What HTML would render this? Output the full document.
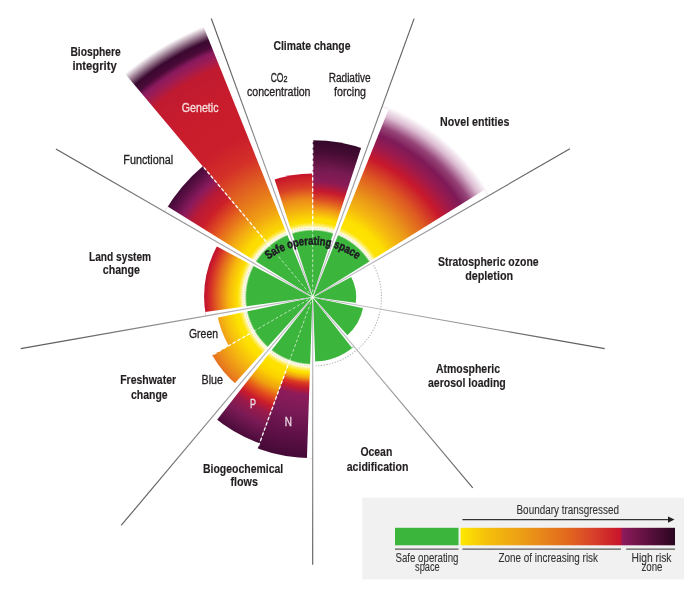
<!DOCTYPE html>
<html><head><meta charset="utf-8"><style>html,body{margin:0;padding:0;background:#fff;width:700px;height:589px;overflow:hidden}svg{display:block;will-change:transform}</style></head>
<body><svg width="700" height="589" viewBox="0 0 700 589"><defs><radialGradient id="g1" gradientUnits="userSpaceOnUse" cx="312.7" cy="297.2" r="300"><stop offset="0.2000" stop-color="#ffe700"/><stop offset="0.2533" stop-color="#fde000"/><stop offset="0.2933" stop-color="#f4b010"/><stop offset="0.3267" stop-color="#ec8a1a"/><stop offset="0.3667" stop-color="#d83e26"/><stop offset="0.4083" stop-color="#c8162c"/></radialGradient><radialGradient id="g2" gradientUnits="userSpaceOnUse" cx="312.7" cy="297.2" r="300"><stop offset="0.2000" stop-color="#ffe700"/><stop offset="0.2600" stop-color="#fddf00"/><stop offset="0.2933" stop-color="#f19a18"/><stop offset="0.3267" stop-color="#dc4b24"/><stop offset="0.3533" stop-color="#c6192e"/><stop offset="0.3867" stop-color="#8a1b56"/><stop offset="0.4267" stop-color="#761a52"/><stop offset="0.4800" stop-color="#4a0d35"/><stop offset="0.5233" stop-color="#33082a"/></radialGradient><radialGradient id="g3" gradientUnits="userSpaceOnUse" cx="312.7" cy="297.2" r="300"><stop offset="0.2000" stop-color="#ffe700"/><stop offset="0.2800" stop-color="#fde000"/><stop offset="0.3233" stop-color="#f5b810"/><stop offset="0.3667" stop-color="#eb9a18"/><stop offset="0.4400" stop-color="#de5a22"/><stop offset="0.5000" stop-color="#c8182c"/><stop offset="0.5467" stop-color="#9a1a4e"/><stop offset="0.5833" stop-color="#7e1a58"/><stop offset="0.6133" stop-color="#964478"/><stop offset="0.6500" stop-color="#dcbcd2"/><stop offset="0.6833" stop-color="#ffffff"/></radialGradient><radialGradient id="g4" gradientUnits="userSpaceOnUse" cx="312.7" cy="297.2" r="300"><stop offset="0.0000" stop-color="#3cb53c"/><stop offset="1.0000" stop-color="#3cb53c"/></radialGradient><radialGradient id="g5" gradientUnits="userSpaceOnUse" cx="312.7" cy="297.2" r="300"><stop offset="0.0000" stop-color="#3cb53c"/><stop offset="1.0000" stop-color="#3cb53c"/></radialGradient><radialGradient id="g6" gradientUnits="userSpaceOnUse" cx="312.7" cy="297.2" r="300"><stop offset="0.0000" stop-color="#3cb53c"/><stop offset="1.0000" stop-color="#3cb53c"/></radialGradient><radialGradient id="g7" gradientUnits="userSpaceOnUse" cx="312.7" cy="297.2" r="300"><stop offset="0.2000" stop-color="#ffe700"/><stop offset="0.2533" stop-color="#fde000"/><stop offset="0.2700" stop-color="#f0a010"/><stop offset="0.2867" stop-color="#dc3a22"/><stop offset="0.3033" stop-color="#c41a2e"/><stop offset="0.3267" stop-color="#8e1b5b"/><stop offset="0.3833" stop-color="#7a1a56"/><stop offset="0.4667" stop-color="#5e1046"/><stop offset="0.5367" stop-color="#440a36"/></radialGradient><radialGradient id="g8" gradientUnits="userSpaceOnUse" cx="312.7" cy="297.2" r="300"><stop offset="0.2000" stop-color="#ffe700"/><stop offset="0.2667" stop-color="#fde000"/><stop offset="0.2933" stop-color="#fcd000"/><stop offset="0.3267" stop-color="#f0a010"/><stop offset="0.3600" stop-color="#e24a1e"/><stop offset="0.3867" stop-color="#c81a2c"/><stop offset="0.4133" stop-color="#9a1a4a"/><stop offset="0.4533" stop-color="#7a1a56"/><stop offset="0.5183" stop-color="#4a0c3a"/></radialGradient><radialGradient id="g9" gradientUnits="userSpaceOnUse" cx="312.7" cy="297.2" r="300"><stop offset="0.2000" stop-color="#ffe700"/><stop offset="0.2667" stop-color="#fde000"/><stop offset="0.3167" stop-color="#f5b610"/><stop offset="0.3600" stop-color="#ec8c1a"/><stop offset="0.3867" stop-color="#e4701e"/></radialGradient><radialGradient id="g10" gradientUnits="userSpaceOnUse" cx="312.7" cy="297.2" r="300"><stop offset="0.2000" stop-color="#ffe700"/><stop offset="0.2600" stop-color="#fde300"/><stop offset="0.3000" stop-color="#f6bc10"/><stop offset="0.3283" stop-color="#ee9818"/></radialGradient><radialGradient id="g11" gradientUnits="userSpaceOnUse" cx="312.7" cy="297.2" r="300"><stop offset="0.2000" stop-color="#ffe700"/><stop offset="0.2500" stop-color="#fde000"/><stop offset="0.2800" stop-color="#f6b80e"/><stop offset="0.3167" stop-color="#e46a1e"/><stop offset="0.3367" stop-color="#d83a26"/><stop offset="0.3533" stop-color="#c81a2c"/><stop offset="0.3617" stop-color="#c0142c"/></radialGradient><radialGradient id="g12" gradientUnits="userSpaceOnUse" cx="312.7" cy="297.2" r="300"><stop offset="0.2000" stop-color="#ffe700"/><stop offset="0.2667" stop-color="#fddc00"/><stop offset="0.3167" stop-color="#f2a814"/><stop offset="0.3833" stop-color="#e2581f"/><stop offset="0.4333" stop-color="#cc1e2a"/><stop offset="0.4733" stop-color="#b81a36"/><stop offset="0.5100" stop-color="#8a1a5c"/><stop offset="0.5433" stop-color="#5e1046"/><stop offset="0.5700" stop-color="#420a36"/></radialGradient><radialGradient id="g13" gradientUnits="userSpaceOnUse" cx="312.7" cy="297.2" r="300"><stop offset="0.2000" stop-color="#ffe700"/><stop offset="0.2400" stop-color="#fde000"/><stop offset="0.2733" stop-color="#f8c80a"/><stop offset="0.3167" stop-color="#f0a014"/><stop offset="0.3667" stop-color="#e8801a"/><stop offset="0.4333" stop-color="#de5a22"/><stop offset="0.5000" stop-color="#d43028"/><stop offset="0.5833" stop-color="#ca1e2c"/><stop offset="0.7167" stop-color="#c81c2c"/><stop offset="0.8267" stop-color="#c01a30"/><stop offset="0.8567" stop-color="#a01c52"/><stop offset="0.8800" stop-color="#8a1a5e"/><stop offset="0.9000" stop-color="#4a0a38"/><stop offset="0.9233" stop-color="#3a0830"/><stop offset="0.9467" stop-color="#9a7a90"/><stop offset="0.9733" stop-color="#ffffff"/></radialGradient><radialGradient id="g14" gradientUnits="userSpaceOnUse" cx="312.7" cy="297.2" r="300"><stop offset="0.2200" stop-color="#ffffff" stop-opacity="0"/><stop offset="0.2267" stop-color="#ffffff" stop-opacity="0.95"/><stop offset="0.2317" stop-color="#ffffff" stop-opacity="0.9"/><stop offset="0.2383" stop-color="#ffffff" stop-opacity="0.5"/><stop offset="0.2500" stop-color="#ffffff" stop-opacity="0"/></radialGradient><linearGradient id="sl20" gradientUnits="userSpaceOnUse" x1="329.80" y1="250.22" x2="398.21" y2="62.28"><stop offset="0" stop-color="#c0bec4"/><stop offset="1" stop-color="#606060"/></linearGradient><linearGradient id="sl60" gradientUnits="userSpaceOnUse" x1="356.00" y1="272.20" x2="529.21" y2="172.20"><stop offset="0" stop-color="#c0bec4"/><stop offset="1" stop-color="#606060"/></linearGradient><linearGradient id="sl100" gradientUnits="userSpaceOnUse" x1="361.94" y1="305.88" x2="558.90" y2="340.61"><stop offset="0" stop-color="#c0bec4"/><stop offset="1" stop-color="#606060"/></linearGradient><linearGradient id="sl140" gradientUnits="userSpaceOnUse" x1="344.84" y1="335.50" x2="473.40" y2="488.71"><stop offset="0" stop-color="#c0bec4"/><stop offset="1" stop-color="#606060"/></linearGradient><linearGradient id="sl180" gradientUnits="userSpaceOnUse" x1="312.70" y1="347.20" x2="312.70" y2="547.20"><stop offset="0" stop-color="#c0bec4"/><stop offset="1" stop-color="#606060"/></linearGradient><linearGradient id="sl220" gradientUnits="userSpaceOnUse" x1="280.56" y1="335.50" x2="152.00" y2="488.71"><stop offset="0" stop-color="#c0bec4"/><stop offset="1" stop-color="#606060"/></linearGradient><linearGradient id="sl260" gradientUnits="userSpaceOnUse" x1="263.46" y1="305.88" x2="66.50" y2="340.61"><stop offset="0" stop-color="#c0bec4"/><stop offset="1" stop-color="#606060"/></linearGradient><linearGradient id="sl300" gradientUnits="userSpaceOnUse" x1="269.40" y1="272.20" x2="96.19" y2="172.20"><stop offset="0" stop-color="#c0bec4"/><stop offset="1" stop-color="#606060"/></linearGradient><linearGradient id="sl340" gradientUnits="userSpaceOnUse" x1="295.60" y1="250.22" x2="227.19" y2="62.28"><stop offset="0" stop-color="#c0bec4"/><stop offset="1" stop-color="#606060"/></linearGradient><path id="arc" d="M249.05,281.45 A73.5,73.5 0 0 1 376.35,281.45"/><linearGradient id="lg" x1="460.6" x2="675" y1="0" y2="0" gradientUnits="userSpaceOnUse"><stop offset="0" stop-color="#fde800"/><stop offset="0.12" stop-color="#f5c00a"/><stop offset="0.3" stop-color="#eb9a16"/><stop offset="0.5" stop-color="#e2681e"/><stop offset="0.62" stop-color="#d8402a"/><stop offset="0.747" stop-color="#c8142c"/><stop offset="0.753" stop-color="#8e1a5c"/><stop offset="1" stop-color="#2a0620"/></linearGradient></defs><rect width="700" height="589" fill="#fff"/><path d="M312.70,297.20 L270.36,180.87 A123.80,123.80 0 0 1 312.70,173.40 Z" fill="url(#g1)"/><path d="M312.70,297.20 L312.70,140.20 A157.00,157.00 0 0 1 366.40,149.67 Z" fill="url(#g2)"/><path d="M312.70,297.20 L383.50,102.68 A207.00,207.00 0 0 1 491.97,193.70 Z" fill="url(#g3)"/><path d="M312.70,297.20 L350.37,275.45 A43.50,43.50 0 0 1 355.54,304.75 Z" fill="url(#g4)"/><path d="M312.70,297.20 L363.42,306.14 A51.50,51.50 0 0 1 345.80,336.65 Z" fill="url(#g5)"/><path d="M312.70,297.20 L354.16,346.61 A64.50,64.50 0 0 1 312.70,361.70 Z" fill="url(#g6)"/><path d="M312.70,297.20 L312.70,458.20 A161.00,161.00 0 0 1 257.63,448.49 Z" fill="url(#g7)"/><path d="M312.70,297.20 L259.52,443.32 A155.50,155.50 0 0 1 212.75,416.32 Z" fill="url(#g8)"/><path d="M312.70,297.20 L238.14,386.06 A116.00,116.00 0 0 1 212.24,355.20 Z" fill="url(#g9)"/><path d="M312.70,297.20 L228.70,345.70 A97.00,97.00 0 0 1 217.17,314.04 Z" fill="url(#g10)"/><path d="M312.70,297.20 L205.85,316.04 A108.50,108.50 0 0 1 218.74,242.95 Z" fill="url(#g11)"/><path d="M312.70,297.20 L164.61,211.70 A171.00,171.00 0 0 1 202.78,166.21 Z" fill="url(#g12)"/><path d="M312.70,297.20 L119.86,67.39 A300.00,300.00 0 0 1 210.09,15.29 Z" fill="url(#g13)"/><path d="M312.70,297.20 L312.70,364.70 A67.50,67.50 0 1 1 371.16,263.45 Z" fill="#3cb53c"/><path d="M312.70,359.20 L312.70,375.20 A78.00,78.00 0 1 1 380.25,258.20 L366.39,266.20 A62.00,62.00 0 1 0 312.70,359.20 Z" fill="url(#g14)"/><path d="M372.28,262.80 A68.8,68.8 0 0 1 312.70,366.00" fill="none" stroke="#b0b0b0" stroke-width="1.1" stroke-dasharray="1.2 1.6"/><path d="M312.70,366.00 A68.8,68.8 0 1 1 372.28,262.80" fill="none" stroke="#c8c8c8" stroke-width="0.9" stroke-dasharray="1 1.5"/><line x1="312.7" y1="297.2" x2="312.70" y2="230.20" stroke="#ffffff" stroke-width="0.9" stroke-opacity="0.7" stroke-dasharray="3 2"/><line x1="312.70" y1="230.20" x2="312.70" y2="140.20" stroke="#ffffff" stroke-width="1.3" stroke-dasharray="3.5 2"/><line x1="312.7" y1="297.2" x2="269.63" y2="245.88" stroke="#ffffff" stroke-width="0.9" stroke-opacity="0.7" stroke-dasharray="3 2"/><line x1="269.63" y1="245.88" x2="202.78" y2="166.21" stroke="#ffffff" stroke-width="1.3" stroke-dasharray="3.5 2"/><line x1="312.7" y1="297.2" x2="254.68" y2="330.70" stroke="#ffffff" stroke-width="0.9" stroke-opacity="0.7" stroke-dasharray="3 2"/><line x1="254.68" y1="330.70" x2="212.24" y2="355.20" stroke="#ffffff" stroke-width="1.3" stroke-dasharray="3.5 2"/><line x1="312.7" y1="297.2" x2="289.78" y2="360.16" stroke="#ffffff" stroke-width="0.9" stroke-opacity="0.7" stroke-dasharray="3 2"/><line x1="289.78" y1="360.16" x2="257.63" y2="448.49" stroke="#ffffff" stroke-width="1.3" stroke-dasharray="3.5 2"/><polygon points="312.98,297.30 388.47,109.82 375.10,104.95 312.42,297.10" fill="#ffffff"/><line x1="314.75" y1="291.56" x2="414.11" y2="18.58" stroke="url(#sl20)" stroke-width="1.15"/><polygon points="312.85,297.46 491.20,202.36 484.08,190.04 312.55,296.94" fill="#ffffff"/><line x1="317.90" y1="294.20" x2="569.91" y2="148.70" stroke="url(#sl60)" stroke-width="1.15"/><polygon points="312.65,297.50 363.53,308.36 364.29,304.10 312.75,296.90" fill="#ffffff"/><line x1="318.61" y1="298.24" x2="604.70" y2="348.69" stroke="url(#sl100)" stroke-width="1.15"/><polygon points="312.47,297.39 351.88,347.87 355.80,344.58 312.93,297.01" fill="#ffffff"/><line x1="316.56" y1="301.80" x2="472.75" y2="487.95" stroke="url(#sl140)" stroke-width="1.15"/><polygon points="312.40,297.20 306.94,458.20 318.46,458.20 313.00,297.20" fill="#ffffff"/><line x1="312.70" y1="303.20" x2="312.70" y2="564.70" stroke="url(#sl180)" stroke-width="1.15"/><polygon points="312.47,297.01 208.14,413.10 216.71,420.30 312.93,297.39" fill="#ffffff"/><line x1="308.84" y1="301.80" x2="121.15" y2="525.48" stroke="url(#sl220)" stroke-width="1.15"/><polygon points="312.65,296.90 205.15,312.07 206.55,320.01 312.75,297.50" fill="#ffffff"/><line x1="306.79" y1="298.24" x2="20.70" y2="348.69" stroke="url(#sl260)" stroke-width="1.15"/><polygon points="312.85,296.94 167.66,206.42 161.56,216.98 312.55,297.46" fill="#ffffff"/><line x1="307.50" y1="294.20" x2="55.92" y2="148.95" stroke="url(#sl300)" stroke-width="1.15"/><polygon points="312.98,297.10 222.31,19.36 203.35,26.26 312.42,297.30" fill="#ffffff"/><line x1="310.65" y1="291.56" x2="211.26" y2="18.49" stroke="url(#sl340)" stroke-width="1.15"/><text font-family="Liberation Sans" font-weight="bold" font-size="11.8" fill="#1e1a24" stroke="#1e1a24" stroke-width="0.5"><textPath href="#arc" startOffset="50%" text-anchor="middle" textLength="95" lengthAdjust="spacingAndGlyphs">Safe operating space</textPath></text><text x="273.40" y="50.10" font-family="Liberation Sans" font-size="12" font-weight="bold" fill="#231f20" stroke="#231f20" stroke-width="0.15" textLength="77.10" lengthAdjust="spacingAndGlyphs">Climate change</text><text x="70.40" y="55.50" font-family="Liberation Sans" font-size="12" font-weight="bold" fill="#231f20" stroke="#231f20" stroke-width="0.15" textLength="50.40" lengthAdjust="spacingAndGlyphs">Biosphere</text><text x="72.40" y="69.50" font-family="Liberation Sans" font-size="12" font-weight="bold" fill="#231f20" stroke="#231f20" stroke-width="0.15" textLength="44.30" lengthAdjust="spacingAndGlyphs">integrity</text><text x="440.10" y="126.20" font-family="Liberation Sans" font-size="12" font-weight="bold" fill="#231f20" stroke="#231f20" stroke-width="0.15" textLength="69.30" lengthAdjust="spacingAndGlyphs">Novel entities</text><text x="438.00" y="266.00" font-family="Liberation Sans" font-size="12" font-weight="bold" fill="#231f20" stroke="#231f20" stroke-width="0.15" textLength="100.60" lengthAdjust="spacingAndGlyphs">Stratospheric ozone</text><text x="465.20" y="280.30" font-family="Liberation Sans" font-size="12" font-weight="bold" fill="#231f20" stroke="#231f20" stroke-width="0.15" textLength="47.90" lengthAdjust="spacingAndGlyphs">depletion</text><text x="89.00" y="260.60" font-family="Liberation Sans" font-size="12" font-weight="bold" fill="#231f20" stroke="#231f20" stroke-width="0.15" textLength="62.10" lengthAdjust="spacingAndGlyphs">Land system</text><text x="102.80" y="274.30" font-family="Liberation Sans" font-size="12" font-weight="bold" fill="#231f20" stroke="#231f20" stroke-width="0.15" textLength="37.20" lengthAdjust="spacingAndGlyphs">change</text><text x="120.20" y="384.30" font-family="Liberation Sans" font-size="12" font-weight="bold" fill="#231f20" stroke="#231f20" stroke-width="0.15" textLength="55.90" lengthAdjust="spacingAndGlyphs">Freshwater</text><text x="131.00" y="399.00" font-family="Liberation Sans" font-size="12" font-weight="bold" fill="#231f20" stroke="#231f20" stroke-width="0.15" textLength="36.60" lengthAdjust="spacingAndGlyphs">change</text><text x="435.90" y="373.10" font-family="Liberation Sans" font-size="12" font-weight="bold" fill="#231f20" stroke="#231f20" stroke-width="0.15" textLength="64.10" lengthAdjust="spacingAndGlyphs">Atmospheric</text><text x="428.00" y="386.90" font-family="Liberation Sans" font-size="12" font-weight="bold" fill="#231f20" stroke="#231f20" stroke-width="0.15" textLength="77.80" lengthAdjust="spacingAndGlyphs">aerosol loading</text><text x="360.40" y="456.10" font-family="Liberation Sans" font-size="12" font-weight="bold" fill="#231f20" stroke="#231f20" stroke-width="0.15" textLength="31.90" lengthAdjust="spacingAndGlyphs">Ocean</text><text x="346.70" y="470.90" font-family="Liberation Sans" font-size="12" font-weight="bold" fill="#231f20" stroke="#231f20" stroke-width="0.15" textLength="61.70" lengthAdjust="spacingAndGlyphs">acidification</text><text x="203.00" y="473.20" font-family="Liberation Sans" font-size="12" font-weight="bold" fill="#231f20" stroke="#231f20" stroke-width="0.15" textLength="80.20" lengthAdjust="spacingAndGlyphs">Biogeochemical</text><text x="230.50" y="486.30" font-family="Liberation Sans" font-size="12" font-weight="bold" fill="#231f20" stroke="#231f20" stroke-width="0.15" textLength="27.40" lengthAdjust="spacingAndGlyphs">flows</text><text x="247.00" y="96.30" font-family="Liberation Sans" font-size="12" fill="#231f20" stroke="#231f20" stroke-width="0.3" textLength="63.50" lengthAdjust="spacingAndGlyphs">concentration</text><text x="328.70" y="82.10" font-family="Liberation Sans" font-size="12" fill="#231f20" stroke="#231f20" stroke-width="0.3" textLength="41.90" lengthAdjust="spacingAndGlyphs">Radiative</text><text x="334.00" y="96.30" font-family="Liberation Sans" font-size="12" fill="#231f20" stroke="#231f20" stroke-width="0.3" textLength="32.00" lengthAdjust="spacingAndGlyphs">forcing</text><text x="123.30" y="163.70" font-family="Liberation Sans" font-size="12" fill="#231f20" stroke="#231f20" stroke-width="0.3" textLength="49.90" lengthAdjust="spacingAndGlyphs">Functional</text><text x="189.00" y="337.60" font-family="Liberation Sans" font-size="12" fill="#231f20" stroke="#231f20" stroke-width="0.3" textLength="29.00" lengthAdjust="spacingAndGlyphs">Green</text><text x="201.50" y="383.70" font-family="Liberation Sans" font-size="12" fill="#231f20" stroke="#231f20" stroke-width="0.3" textLength="21.40" lengthAdjust="spacingAndGlyphs">Blue</text><text x="270.70" y="81.60" font-family="Liberation Sans" font-size="12" fill="#231f20" stroke="#231f20" stroke-width="0.3" textLength="12.80" lengthAdjust="spacingAndGlyphs">CO</text><text x="283.6" y="81.6" font-family="Liberation Sans" font-size="8.3" fill="#231f20" stroke="#231f20" stroke-width="0.35" textLength="4" lengthAdjust="spacingAndGlyphs">2</text><text x="181.80" y="111.50" font-family="Liberation Sans" font-size="12" fill="#f6dede" stroke="#f6dede" stroke-width="0.3" textLength="36.70" lengthAdjust="spacingAndGlyphs">Genetic</text><text x="250.00" y="408.40" font-family="Liberation Sans" font-size="12" fill="#ecd8e4" stroke="#ecd8e4" stroke-width="0.3" textLength="6.00" lengthAdjust="spacingAndGlyphs">P</text><text x="284.80" y="425.80" font-family="Liberation Sans" font-size="12" fill="#ecd8e4" stroke="#ecd8e4" stroke-width="0.3" textLength="7.20" lengthAdjust="spacingAndGlyphs">N</text><rect x="362.3" y="497.7" width="321.7" height="81.8" fill="#f1f1f1"/><rect x="395" y="527.8" width="63.5" height="17.5" fill="#3cb53c"/><rect x="460.6" y="527.8" width="214.4" height="17.5" fill="url(#lg)"/><line x1="462.4" y1="519.6" x2="670" y2="519.6" stroke="#333" stroke-width="1.1"/><polygon points="674.5,519.6 668,516.4 668,522.8" fill="#231f20"/><line x1="395" y1="549.1" x2="458.5" y2="549.1" stroke="#5a5a5a" stroke-width="1.3"/><line x1="462.4" y1="549.1" x2="621" y2="549.1" stroke="#5a5a5a" stroke-width="1.3"/><line x1="626.2" y1="549.1" x2="675" y2="549.1" stroke="#5a5a5a" stroke-width="1.3"/><text x="516.50" y="513.70" font-family="Liberation Sans" font-size="12" fill="#333333" stroke="#333333" stroke-width="0.1" textLength="102.50" lengthAdjust="spacingAndGlyphs">Boundary transgressed</text><text x="395.50" y="561.50" font-family="Liberation Sans" font-size="12" fill="#333333" stroke="#333333" stroke-width="0.1" textLength="63.00" lengthAdjust="spacingAndGlyphs">Safe operating</text><text x="415.00" y="570.90" font-family="Liberation Sans" font-size="12" fill="#333333" stroke="#333333" stroke-width="0.1" textLength="24.70" lengthAdjust="spacingAndGlyphs">space</text><text x="498.50" y="561.50" font-family="Liberation Sans" font-size="12" fill="#333333" stroke="#333333" stroke-width="0.1" textLength="99.50" lengthAdjust="spacingAndGlyphs">Zone of increasing risk</text><text x="631.50" y="561.50" font-family="Liberation Sans" font-size="12" fill="#333333" stroke="#333333" stroke-width="0.1" textLength="40.00" lengthAdjust="spacingAndGlyphs">High risk</text><text x="641.50" y="570.90" font-family="Liberation Sans" font-size="12" fill="#333333" stroke="#333333" stroke-width="0.1" textLength="21.00" lengthAdjust="spacingAndGlyphs">zone</text></svg></body></html>
